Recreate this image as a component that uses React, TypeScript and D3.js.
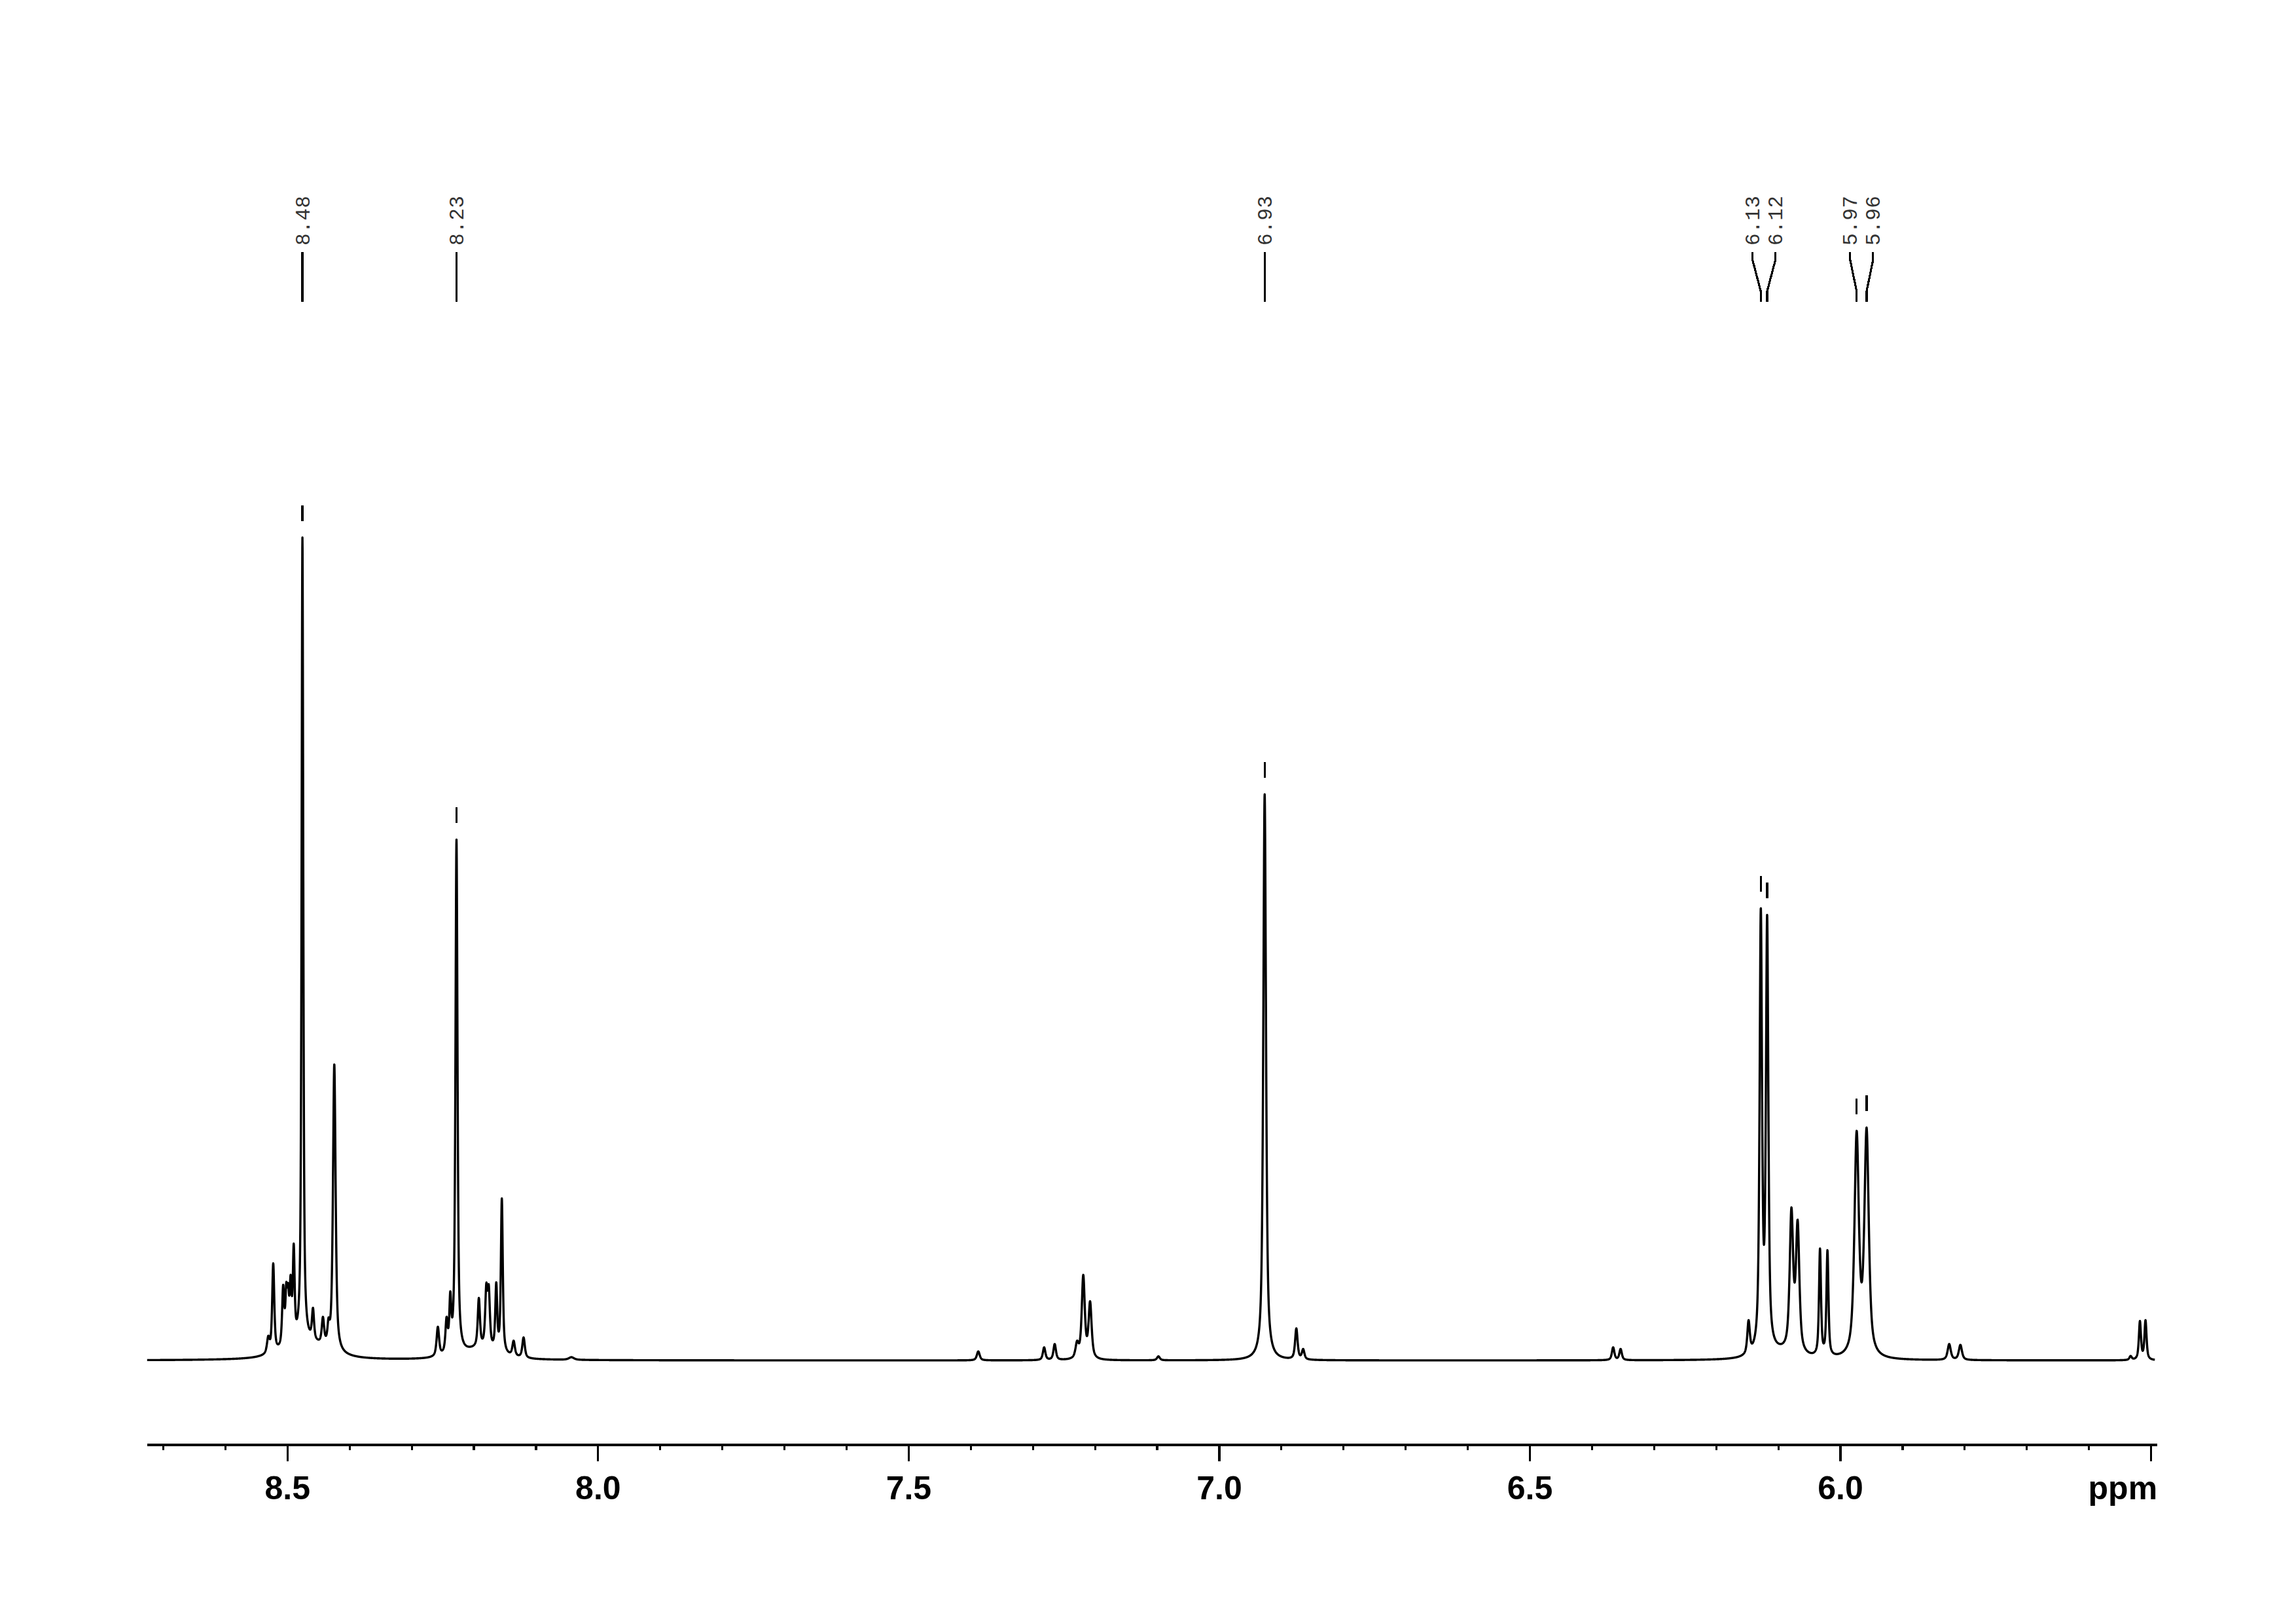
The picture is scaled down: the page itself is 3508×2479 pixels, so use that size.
import React from 'react';
import * as d3 from 'd3';

const WIDTH = 3508;
const HEIGHT = 2479;

// Axis (chemical shift, ppm; reversed)
const ppmDomain = [8.726, 5.49];
const tickValues = [8.7, 8.6, 8.5, 8.4, 8.3, 8.2, 8.1, 8.0, 7.9, 7.8, 7.7, 7.6, 7.5, 7.4, 7.3, 7.2, 7.1, 7.0, 6.9, 6.8, 6.7, 6.6, 6.5, 6.4, 6.3, 6.2, 6.1, 6.0, 5.9, 5.8, 5.7, 5.6, 5.5];
const tickLabels = [8.5, 8.0, 7.5, 7.0, 6.5, 6.0];
const unitLabel = 'ppm';

// Resolved signals: position (ppm), observed height (tallest = 100), line width (ppm)
const peakPpm = [
  8.531, 8.523, 8.507, 8.502, 8.499, 8.495, 8.490, 8.476, 8.459, 8.443, 8.434, 8.4247,
  8.258, 8.244, 8.238, 8.228, 8.192, 8.180, 8.176, 8.164, 8.155, 8.136, 8.120, 8.043,
  7.388, 7.282, 7.265, 7.229, 7.219, 7.208, 7.098,
  6.940, 6.927, 6.876, 6.865, 6.366, 6.354,
  6.148, 6.1283, 6.1181, 6.087, 6.079, 6.069, 6.033, 6.021, 5.974, 5.958,
  5.825, 5.807, 5.533, 5.518, 5.509,
];
const peakHeight = [
  3.0, 11.8, 9.2, 9.5, 9.4, 10.4, 14.2, 100, 6.4, 5.3, 5.2, 36.0,
  4.1, 5.3, 8.4, 63.3, 7.6, 9.4, 9.2, 9.5, 19.7, 2.4, 2.8, 0.4,
  1.1, 1.6, 2.0, 2.4, 10.4, 7.2, 0.5,
  1.6, 68.8, 3.9, 1.4, 1.6, 1.4,
  4.9, 55.0, 54.2, 2.2, 18.6, 17.1, 13.6, 13.4, 27.9, 28.3,
  2.0, 1.9, 0.55, 4.8, 4.9,
];
const peakWidth = [
  0.0050, 0.0040, 0.0040, 0.0034, 0.0034, 0.0036, 0.0034, 0.0032, 0.0040, 0.0045, 0.0040, 0.0050,
  0.0048, 0.0042, 0.0036, 0.0039, 0.0042, 0.0042, 0.0042, 0.0036, 0.0036, 0.0048, 0.0048, 0.0100,
  0.0055, 0.0048, 0.0048, 0.0060, 0.0058, 0.0058, 0.0055,
  0.0090, 0.0052, 0.0048, 0.0048, 0.0048, 0.0048,
  0.0048, 0.0046, 0.0046, 0.0090, 0.0066, 0.0066, 0.0038, 0.0038, 0.0084, 0.0084,
  0.0060, 0.0060, 0.0045, 0.0040, 0.0040,
];

// Broad underlying humps: position, amplitude, width
const humpPpm = [8.47, 8.19, 6.10];
const humpAmp = [2.0, 1.3, 0.8];
const humpWidth = [0.08, 0.07, 0.06];

// Peak picking labels
const labelText = ['8.48', '8.23', '6.93', '6.13', '6.12', '5.97', '5.96'];
const labelPpm = [8.476, 8.228, 6.927, 6.1283, 6.1181, 5.974, 5.958];

const ETA = 0.7;
function shape(d: number, w: number) {
  const t = (2 * d) / w;
  const l = 1 / (1 + t * t);
  const g = Math.exp(-Math.LN2 * t * t);
  return ETA * l + (1 - ETA) * g;
}

function solveAmplitudes() {
  const amp = peakHeight.slice();
  const humpAt = (p: number) => humpPpm.reduce((s, c, i) => s + humpAmp[i] * shape(p - c, humpWidth[i]), 0);
  for (let it = 0; it < 300; it++) {
    const next = amp.slice();
    for (let i = 0; i < peakPpm.length; i++) {
      let s = humpAt(peakPpm[i]);
      for (let j = 0; j < peakPpm.length; j++) s += amp[j] * shape(peakPpm[i] - peakPpm[j], peakWidth[j]);
      next[i] = Math.max(0, amp[i] + 0.5 * (peakHeight[i] - s));
    }
    for (let i = 0; i < amp.length; i++) amp[i] = next[i];
  }
  return amp;
}

export default function App() {
  const x = d3.scaleLinear().domain(ppmDomain).range([224.8, 3296.1]);
  const y = d3.scaleLinear().domain([0, 100]).range([2078, 821]);
  const axisY = 2207;

  const amp = React.useMemo(() => solveAmplitudes(), []);
  const intensity = (p: number) => {
    let s = 0;
    for (let i = 0; i < humpPpm.length; i++) s += humpAmp[i] * shape(p - humpPpm[i], humpWidth[i]);
    for (let j = 0; j < peakPpm.length; j++) {
      const d = p - peakPpm[j];
      if (Math.abs(d) < 0.6) s += amp[j] * shape(d, peakWidth[j]);
    }
    return s;
  };

  const pts: [number, number][] = [];
  const start = 8.726, end = 5.494, step = 0.0002;
  const n = Math.round((start - end) / step);
  for (let k = 0; k <= n; k++) {
    const p = start - k * step;
    pts.push([p, intensity(p)]);
  }
  const line = d3.line<[number, number]>().x((d) => x(d[0])).y((d) => y(d[1]));
  const path = line(pts) || '';

  // label layout: spread close labels apart
  const minGap = 35;
  const peakX = labelPpm.map((p) => x(p));
  const textX = peakX.slice();
  let i = 0;
  while (i < peakX.length) {
    let j = i;
    while (j + 1 < peakX.length && peakX[j + 1] - peakX[j] < minGap) j++;
    const count = j - i + 1;
    const mean = d3.mean(peakX.slice(i, j + 1)) as number;
    for (let k = i; k <= j; k++) textX[k] = mean + (k - i - (count - 1) / 2) * minGap;
    i = j + 1;
  }

  const fs = 31;
  const textBottom = 375;
  const lTop = 385, lBend1 = 397, lBend2 = 445, lBottom = 461;

  return (
    <svg width={WIDTH} height={HEIGHT} style={{ position: 'absolute', left: 0, top: 0, background: '#fff' }}>
      <rect x={0} y={0} width={WIDTH} height={HEIGHT} fill="#fff" />
      {/* peak labels */}
      {labelText.map((t, k) => (
        <g key={'lab' + k}>
          <text
            transform={`translate(${textX[k] + fs * 0.34},${textBottom}) rotate(-90)`}
            fontFamily="'Liberation Mono', 'DejaVu Sans Mono', monospace"
            fontSize={fs}
            fill="#333"
            letterSpacing={0.5}
          >
            {t}
          </text>
          <path
            d={`M${textX[k]},${lTop}L${textX[k]},${lBend1}L${peakX[k]},${lBend2}L${peakX[k]},${lBottom}`}
            fill="none"
            stroke="#000"
            strokeWidth={3.2}
            shapeRendering="crispEdges"
          />
          {(() => {
            const py = y(intensity(labelPpm[k]));
            return (
              <line x1={peakX[k]} x2={peakX[k]} y1={py - 49} y2={py - 25} stroke="#000" strokeWidth={3.2} shapeRendering="crispEdges" />
            );
          })()}
        </g>
      ))}
      {/* spectrum */}
      <path d={path} fill="none" stroke="#000" strokeWidth={3.4} strokeLinejoin="round" />
      {/* axis */}
      <line x1={x(ppmDomain[0])} x2={x(ppmDomain[1])} y1={axisY} y2={axisY} stroke="#000" strokeWidth={3.2} shapeRendering="crispEdges" />
      {tickValues.map((v) => {
        const major = Math.abs(v * 2 - Math.round(v * 2)) < 1e-6;
        return (
          <line key={'t' + v} x1={x(v)} x2={x(v)} y1={axisY} y2={axisY + (major ? 25 : 8)} stroke="#000" strokeWidth={3.2} shapeRendering="crispEdges" />
        );
      })}
      {tickLabels.map((v) => (
        <text
          key={'tl' + v}
          x={x(v)}
          y={2290}
          textAnchor="middle"
          fontFamily="'Liberation Sans', Arial, sans-serif"
          fontWeight="bold"
          fontSize={50}
          fill="#000"
        >
          {d3.format('.1f')(v)}
        </text>
      ))}
      <text
        x={x(ppmDomain[1])}
        y={2290}
        textAnchor="end"
        fontFamily="'Liberation Sans', Arial, sans-serif"
        fontWeight="bold"
        fontSize={50}
        fill="#000"
      >
        {unitLabel}
      </text>
    </svg>
  );
}
